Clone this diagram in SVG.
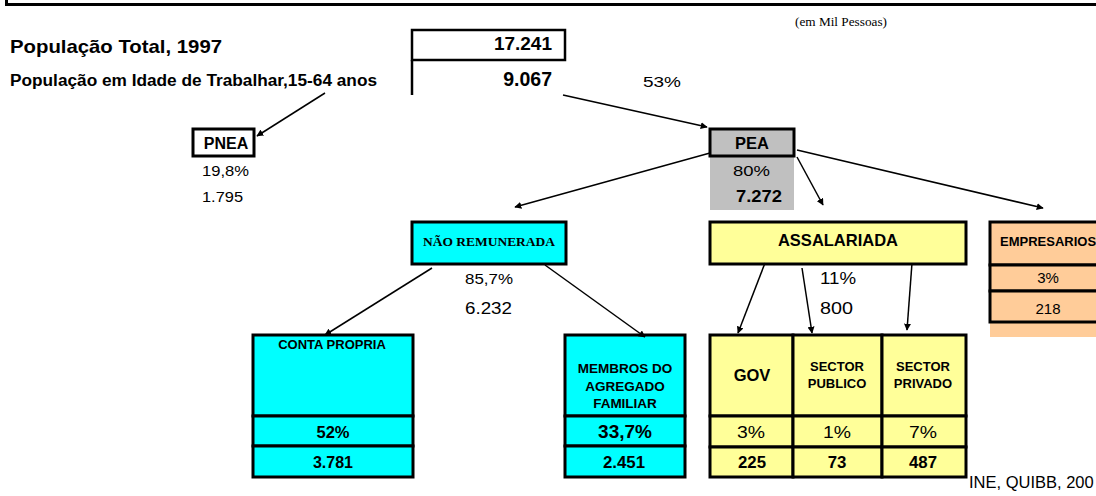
<svg xmlns="http://www.w3.org/2000/svg" width="1096" height="496" viewBox="0 0 1096 496">
<style>
text{font-family:"Liberation Sans",Arial,sans-serif;fill:#000}
.b{font-weight:bold}
.c{text-anchor:middle}
.e{text-anchor:end}
.serif{font-family:"Liberation Serif","Times New Roman",serif}
.box{stroke:#000;stroke-width:3}
.cy{fill:#00ffff}
.ye{fill:#ffff99}
.pe{fill:#ffcc99}
.gr{fill:#c0c0c0}
.con line{stroke:#000;stroke-width:1.5;marker-end:url(#ah)}
</style>
<defs>
<marker id="ah" viewBox="0 0 10 10" refX="9" refY="5" markerWidth="7" markerHeight="7" markerUnits="userSpaceOnUse" orient="auto">
<path d="M0,0 L10,5 L0,10 z" fill="#000"/>
</marker>
</defs>
<rect width="1096" height="496" fill="#fff"/>
<path d="M6.5,-5 V4.5 H1100" fill="none" stroke="#000" stroke-width="3"/>

<g id="header">
<text x="795" y="26" class="serif" font-size="13" textLength="92" lengthAdjust="spacingAndGlyphs">(em Mil Pessoas)</text>
<text x="10" y="53" class="b" font-size="19" textLength="212" lengthAdjust="spacingAndGlyphs">População Total, 1997</text>
<text x="10" y="86" class="b" font-size="16" textLength="367" lengthAdjust="spacingAndGlyphs">População em Idade de Trabalhar,15-64 anos</text>
</g>

<g id="total">
<rect x="412" y="30" width="153" height="30" fill="#fff" stroke="#000" stroke-width="2.5"/>
<line x1="412" y1="60" x2="412" y2="95" stroke="#000" stroke-width="2.5"/>
<text x="552" y="50" class="b e" font-size="19">17.241</text>
<text x="552" y="86" class="b e" font-size="19.5">9.067</text>
<text x="643" y="87" font-size="14" textLength="38" lengthAdjust="spacingAndGlyphs">53%</text>
</g>

<g id="pnea">
<rect x="193" y="129" width="61" height="27" fill="#fff" class="box"/>
<text x="226" y="149" class="b c" font-size="16">PNEA</text>
<text x="202" y="176" font-size="15" textLength="47" lengthAdjust="spacingAndGlyphs">19,8%</text>
<text x="202" y="202" font-size="15" textLength="41" lengthAdjust="spacingAndGlyphs">1.795</text>
</g>

<g id="pea">
<rect x="710" y="156" width="84" height="54" class="gr"/>
<rect x="710" y="129" width="84" height="27" class="gr box"/>
<text x="752" y="149" class="b c" font-size="16.5">PEA</text>
<text x="733" y="176" font-size="15.5" textLength="37" lengthAdjust="spacingAndGlyphs">80%</text>
<text x="736" y="202" class="b" font-size="17" textLength="46" lengthAdjust="spacingAndGlyphs">7.272</text>
</g>

<g id="nao-remunerada">
<rect x="412" y="222" width="154" height="42" class="cy box"/>
<text x="489" y="246" class="b c serif" font-size="13" textLength="132" lengthAdjust="spacingAndGlyphs">NÃO REMUNERADA</text>
<text x="465" y="284" font-size="15.5" textLength="48" lengthAdjust="spacingAndGlyphs">85,7%</text>
<text x="465" y="314" font-size="16" textLength="47" lengthAdjust="spacingAndGlyphs">6.232</text>
</g>

<g id="assalariada">
<rect x="710" y="222" width="256" height="42" class="ye box"/>
<text x="838" y="246" class="b c" font-size="16.5">ASSALARIADA</text>
<text x="820" y="284" font-size="16" textLength="36" lengthAdjust="spacingAndGlyphs">11%</text>
<text x="820" y="314" font-size="16" textLength="33" lengthAdjust="spacingAndGlyphs">800</text>
</g>

<g id="empresarios">
<rect x="990" y="322" width="120" height="15" class="pe"/>
<rect x="990" y="222" width="120" height="43" class="pe box"/>
<rect x="990" y="265" width="120" height="26" class="pe box"/>
<rect x="990" y="291" width="120" height="31" class="pe box"/>
<text x="1000" y="246" class="b" font-size="13">EMPRESARIOS</text>
<text x="1048" y="283" class="c" font-size="15">3%</text>
<text x="1048" y="314" class="c" font-size="15">218</text>
</g>

<g id="conta-propria">
<rect x="253" y="335" width="160" height="81" class="cy box"/>
<rect x="253" y="416" width="160" height="30" class="cy box"/>
<rect x="253" y="446" width="160" height="31" class="cy box"/>
<text x="332" y="349" class="b c" font-size="13">CONTA PROPRIA</text>
<text x="333" y="438" class="b c" font-size="16.5">52%</text>
<text x="333" y="468" class="b c" font-size="16">3.781</text>
</g>

<g id="membros">
<rect x="565" y="335" width="120" height="81" class="cy box"/>
<rect x="565" y="416" width="120" height="30" class="cy box"/>
<rect x="565" y="446" width="120" height="31" class="cy box"/>
<text x="625" y="373" class="b c" font-size="13.5">MEMBROS DO</text>
<text x="625" y="391" class="b c" font-size="13.5">AGREGADO</text>
<text x="625" y="408" class="b c" font-size="13.5">FAMILIAR</text>
<text x="625" y="438" class="b c" font-size="19">33,7%</text>
<text x="624" y="468" class="b c" font-size="16.8">2.451</text>
</g>

<g id="gov">
<rect x="710" y="335" width="83" height="81" class="ye box"/>
<rect x="710" y="416" width="83" height="31" class="ye box"/>
<rect x="710" y="447" width="83" height="30" class="ye box"/>
<text x="752" y="381" class="b c" font-size="16.5">GOV</text>
<text x="751" y="438" class="c" font-size="16" textLength="28" lengthAdjust="spacingAndGlyphs">3%</text>
<text x="752" y="468" class="b c" font-size="16.8">225</text>
</g>

<g id="sector-publico">
<rect x="793" y="335" width="89" height="81" class="ye box"/>
<rect x="793" y="416" width="89" height="31" class="ye box"/>
<rect x="793" y="447" width="89" height="30" class="ye box"/>
<text x="837" y="371" class="b c" font-size="13">SECTOR</text>
<text x="837" y="388" class="b c" font-size="13">PUBLICO</text>
<text x="837" y="438" class="c" font-size="16" textLength="28" lengthAdjust="spacingAndGlyphs">1%</text>
<text x="837" y="468" class="b c" font-size="16.8">73</text>
</g>

<g id="sector-privado">
<rect x="882" y="335" width="84" height="81" class="ye box"/>
<rect x="882" y="416" width="84" height="31" class="ye box"/>
<rect x="882" y="447" width="84" height="30" class="ye box"/>
<text x="923" y="371" class="b c" font-size="13">SECTOR</text>
<text x="923" y="388" class="b c" font-size="13">PRIVADO</text>
<text x="923" y="438" class="c" font-size="16" textLength="28" lengthAdjust="spacingAndGlyphs">7%</text>
<text x="923" y="468" class="b c" font-size="16.8">487</text>
</g>

<g id="source">
<text x="969" y="488" font-size="16.5">INE, QUIBB, 200</text>
</g>

<g id="connectors" class="con">
<line x1="563" y1="95" x2="707" y2="127"/>
<line x1="325" y1="93" x2="257" y2="136"/>
<line x1="710" y1="153" x2="515" y2="207"/>
<line x1="797" y1="157" x2="823" y2="205"/>
<line x1="797" y1="150" x2="1043" y2="208"/>
<line x1="432" y1="268" x2="325" y2="335"/>
<line x1="545" y1="265" x2="645" y2="337"/>
<line x1="765" y1="263" x2="738" y2="333"/>
<line x1="802" y1="268" x2="812" y2="333"/>
<line x1="912" y1="263" x2="907" y2="330"/>
</g>
</svg>
